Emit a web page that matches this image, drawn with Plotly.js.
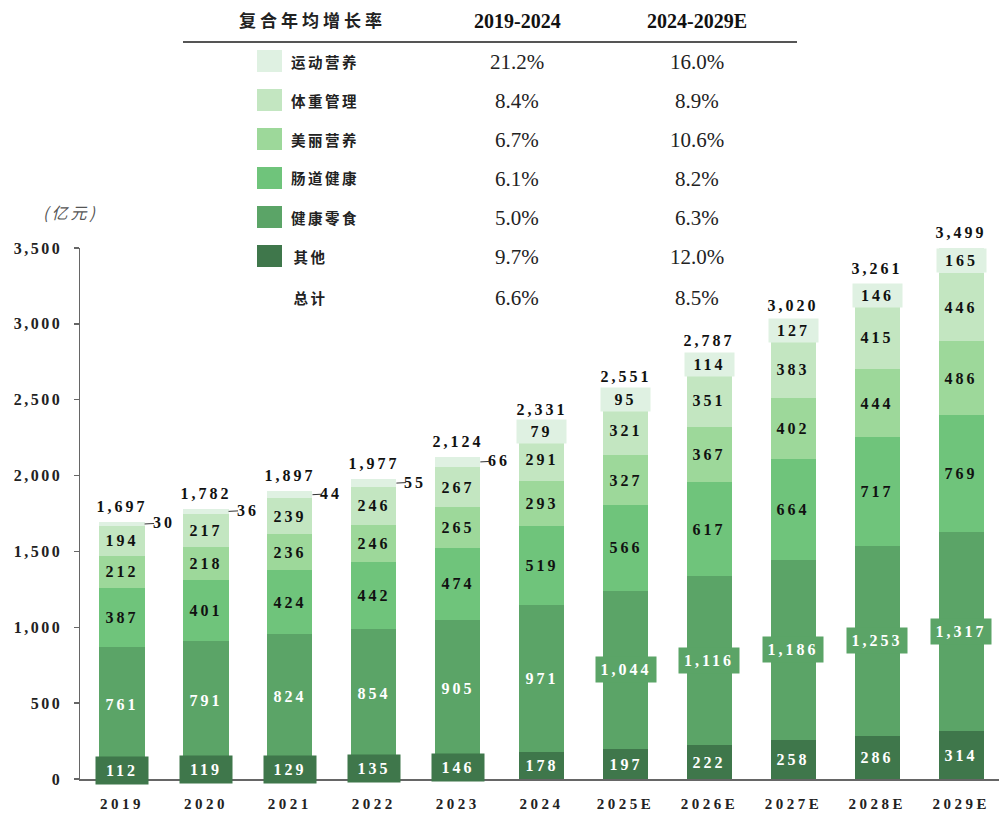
<!DOCTYPE html>
<html><head><meta charset="utf-8">
<script src="https://cdn.plot.ly/plotly-3.0.1.min.js"></script>
<style>
body{margin:0;background:#fff}
#chart{width:999px;height:821px}
.xtick text{letter-spacing:3.5px}
.ytick text{letter-spacing:2.5px}
</style></head><body><div id="chart"></div>
<script>
const years = ['2019','2020','2021','2022','2023','2024','2025E','2026E','2027E','2028E','2029E'];
const other    = [112,119,129,135,146,178,197,222,258,286,314];
const snack    = [761,791,824,854,905,971,1044,1116,1186,1253,1317];
const gut      = [387,401,424,442,474,519,566,617,664,717,769];
const beauty   = [212,218,236,246,265,293,327,367,402,444,486];
const weight   = [194,217,239,246,267,291,321,351,383,415,446];
const sport    = [30,36,44,55,66,79,95,114,127,146,165];
const totals   = [1697,1782,1897,1977,2124,2331,2551,2787,3020,3261,3499];

const seriesNames = ['其他','健康零食','肠道健康','美丽营养','体重管理','运动营养'];
const colors = ['#3f774b','#5ba467','#6fc47b','#9dd89a','#c3e6c1','#dff1e2'];
const cagr1 = ['9.7%','5.0%','6.1%','6.7%','8.4%','21.2%'];
const cagr2 = ['12.0%','6.3%','8.2%','10.6%','8.9%','16.0%'];
const totalLabel = '总计', totalCagr1 = '6.6%', totalCagr2 = '8.5%';
const header = ['复合年均增长率','2019-2024','2024-2029E'];
const unitLabel = '(亿元)';

const values = [other, snack, gut, beauty, weight, sport];

const serif = 'Liberation Serif, Times New Roman, serif';
const cjk = 'Noto Sans CJK SC, sans-serif';

const traces = values.map((v,k)=>({
  type:'bar', x:years, y:v, name:seriesNames[k],
  marker:{color:colors[k], line:{width:0}},
  hoverinfo:'skip', showlegend:false
}));

const fmt = n => n.toLocaleString('en-US');
const ann = [];
const spacing = [];
function add(a, sp){ ann.push(a); spacing.push(sp); }
// segment labels
for(let i=0;i<years.length;i++){
  let base=0;
  for(let k=0;k<values.length;k++){
    const v=values[k][i];
    const mid=base+v/2;
    base+=v;
    const white = k<2;
    const a = {x:i, y:mid, xref:'x', yref:'y', text:fmt(v), showarrow:false,
      xanchor:'center', yanchor:'middle',
      font:{family:serif, size:16, weight:'bold', color: white?'#ffffff':'#111111'}};
    if(k===0 && i<=4){ a.bgcolor=colors[0]; a.width=50; a.height=25; }
    if(k===1 && i>=6){ a.bgcolor=colors[1]; a.width=58; a.height=23; }
    if(k===5){
      if(i<=4){
        a.x=i+0.27; a.showarrow=true; a.arrowhead=0; a.arrowwidth=1; a.arrowcolor='#333';
        a.ax=19; a.ay=-1; a.standoff=0;
      } else { a.bgcolor=colors[5]; a.width=47; a.height=21; }
    }
    add(a, 3);
  }
  add({x:i, y:totals[i], xref:'x', yref:'y', text:fmt(totals[i]), showarrow:false,
    xanchor:'center', yanchor:'bottom', yshift:5, font:{family:serif, size:16, weight:'bold', color:'#111'}}, 3);
}

// table (pixel helpers)
const PX = x => (x-80)/919;
const PY = y => (779-y)/531;
const shapes = [];
function tbl(x, y, text, font, sp, xanchor){
  add({xref:'paper', yref:'paper', x:PX(x), y:PY(y), text:text, showarrow:false,
    xanchor:xanchor||'center', yanchor:'middle', font:font}, sp);
}
tbl(312, 20, header[0], {family:cjk, size:17, weight:'bold', color:'#222'}, 4);
tbl(517, 21, header[1], {family:serif, size:20, weight:'bold', color:'#111'}, 0);
tbl(697, 21, header[2], {family:serif, size:20, weight:'bold', color:'#111'}, 0);
shapes.push({type:'line', xref:'paper', yref:'paper', x0:PX(183), x1:PX(797), y0:PY(42), y1:PY(42),
  line:{color:'#555', width:2}});
const rowY = [61,100,139,178,217,256];
for(let r=0;r<6;r++){
  const k = 5-r;
  const y = rowY[r];
  shapes.push({type:'rect', xref:'paper', yref:'paper', x0:PX(257), x1:PX(282), y0:PY(y-11), y1:PY(y+11),
    fillcolor:colors[k], line:{width:0}});
  tbl(294, y, seriesNames[k], {family:cjk, size:14.5, weight:'bold', color:'#222'}, 2.5, 'left');
  tbl(517, y+1, cagr1[k], {family:serif, size:21, color:'#222'}, 0);
  tbl(697, y+1, cagr2[k], {family:serif, size:21, color:'#222'}, 0);
}
tbl(294, 297, totalLabel, {family:cjk, size:14.5, weight:'bold', color:'#222'}, 2.5, 'left');
tbl(517, 298, totalCagr1, {family:serif, size:21, color:'#222'}, 0);
tbl(697, 298, totalCagr2, {family:serif, size:21, color:'#222'}, 0);
tbl(70, 212, unitLabel, {family:cjk, size:16, style:'italic', color:'#555'}, 3);

// per-annotation letter spacing
const css = spacing.map((s,i)=>`g.annotation[data-index="${i}"] text{letter-spacing:${s}px}`).join('\n');
const st = document.createElement('style'); st.textContent = css; document.head.appendChild(st);

const layout = {
  width:999, height:821,
  margin:{l:80, r:0, t:248, b:42},
  paper_bgcolor:'#fff', plot_bgcolor:'#fff',
  barmode:'stack', bargap:0.46,
  showlegend:false,
  xaxis:{type:'category', range:[-0.5,10.45], showline:true, linecolor:'#666', linewidth:1.5,
    ticks:'', showgrid:false, zeroline:false, fixedrange:true,
    tickfont:{family:serif, size:15, weight:'bold', color:'#222'}, ticklabelstandoff:10},
  yaxis:{range:[0,3500], showline:true, linecolor:'#666', linewidth:1.5, ticks:'outside', ticklen:5,
    tickcolor:'#666', tickwidth:1.5, dtick:500, tickformat:',', showgrid:false, zeroline:false,
    tickfont:{family:serif, size:16, weight:'bold', color:'#222'}, ticklabelstandoff:8},
  annotations:ann, shapes:shapes
};
Plotly.newPlot('chart', traces, layout, {staticPlot:true, displayModeBar:false});
</script></body></html>
